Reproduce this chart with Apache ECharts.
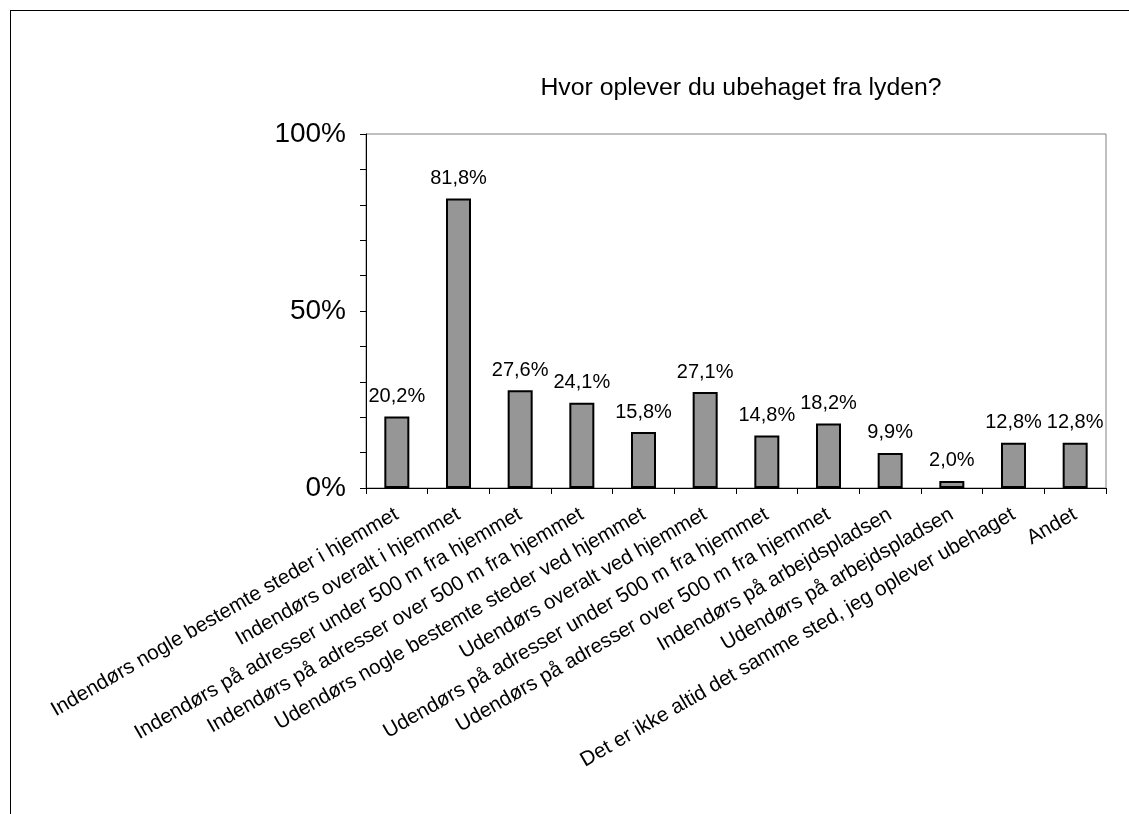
<!DOCTYPE html>
<html>
<head>
<meta charset="utf-8">
<script src="https://cdn.jsdelivr.net/npm/echarts@6/dist/echarts.min.js"></script>
<style>
  html, body { margin: 0; padding: 0; background: #fff; }
  #frame { position: absolute; left: 10px; top: 10px; width: 1119px; height: 804px;
           border-left: 1px solid #000; border-top: 1px solid #000; box-sizing: border-box; }
  #chart { width: 1129px; height: 814px; position: absolute; left: 0; top: 0; }
</style>
</head>
<body>
<div id="frame"></div>
<div id="chart"></div>
<script>
var categories = [
  "Indendørs nogle bestemte steder i hjemmet",
  "Indendørs overalt i hjemmet",
  "Indendørs på adresser under 500 m fra hjemmet",
  "Indendørs på adresser over 500 m fra hjemmet",
  "Udendørs nogle bestemte steder ved hjemmet",
  "Udendørs overalt ved hjemmet",
  "Udendørs på adresser under 500 m fra hjemmet",
  "Udendørs på adresser over 500 m fra hjemmet",
  "Indendørs på arbejdspladsen",
  "Udendørs på arbejdspladsen",
  "Det er ikke altid det samme sted, jeg oplever ubehaget",
  "Andet"
];
var values = [20.2, 81.8, 27.6, 24.1, 15.8, 27.1, 14.8, 18.2, 9.9, 2.0, 12.8, 12.8];
var yTicks = [0, 50, 100];

var chartDom = document.getElementById("chart");
var myChart = echarts.init(chartDom);
var font = "Liberation Sans, Arial, sans-serif";

var option = {
  animation: false,
  title: {
    text: "Hvor oplever du ubehaget fra lyden?",
    left: 736, top: 71, textAlign: "center",
    textStyle: { fontFamily: font, fontSize: 24.8, fontWeight: "normal", color: "#000" }
  },
  grid: { left: 366, right: 23, top: 134, bottom: 326, show: true, borderColor: "#808080", borderWidth: 1 },
  xAxis: {
    type: "category",
    data: categories,
    axisLine: { lineStyle: { color: "#000", width: 1 } },
    axisTick: { show: true, alignWithLabel: false, length: 6, lineStyle: { color: "#000" } },
    axisLabel: { rotate: 30, interval: 0, fontFamily: font, fontSize: 20.6, color: "#000", margin: 25 }
  },
  yAxis: {
    type: "value",
    min: 0, max: 100, interval: 50,
    axisLine: { show: true, lineStyle: { color: "#000", width: 1 } },
    axisTick: { show: true, length: 6, inside: false, lineStyle: { color: "#000" } },
    minorTick: { show: true, splitNumber: 5, length: 6, lineStyle: { color: "#000" } },
    splitLine: { show: false },
    axisLabel: {
      fontFamily: font, fontSize: 28, color: "#000", margin: 20,
      formatter: function (v) { return yTicks.indexOf(v) >= 0 ? v + "%" : ""; }
    }
  },
  series: [{
    type: "bar",
    data: values,
    barWidth: 25,
    itemStyle: { color: "#969696", borderColor: "#000", borderWidth: 2 },
    label: {
      show: true, position: "top", distance: 10,
      fontFamily: font, fontSize: 20, color: "#000",
      formatter: function (p) { return p.value.toFixed(1).replace(".", ",") + "%"; }
    }
  }]
};

option && myChart.setOption(option);
</script>
</body>
</html>
